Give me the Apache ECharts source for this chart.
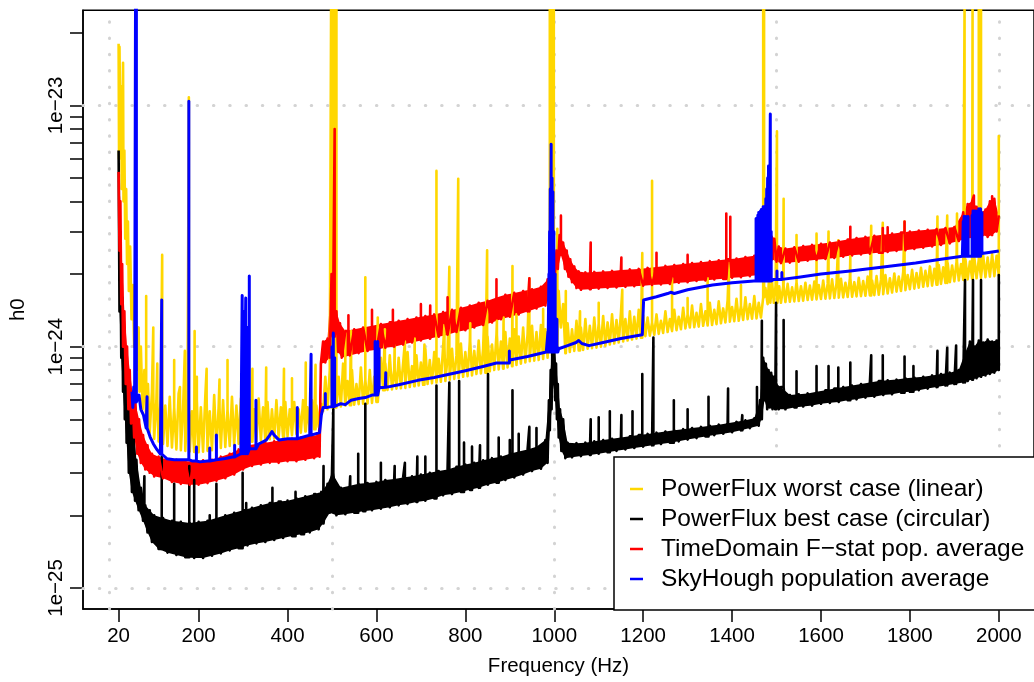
<!DOCTYPE html>
<html>
<head>
<meta charset="utf-8">
<title>h0 upper limits</title>
<script src="https://cdn.jsdelivr.net/npm/echarts@6/dist/echarts.min.js"></script>
<style>
  html, body { margin: 0; padding: 0; background: #fff; }
  #chart { width: 1034px; height: 682px; }
</style>
</head>
<body>
<div id="chart"></div>
<script>
// h0 values are written in units of 1e-25; the y axis runs in log10(h0)
var UNIT = 1e-25;

var seriesNames = [
  'PowerFlux worst case (linear)',
  'PowerFlux best case (circular)',
  'TimeDomain F\u2212stat pop. average',
  'SkyHough population average'
];

var xTickValues = [20, 200, 400, 600, 800, 1000, 1200, 1400, 1600, 1800, 2000];
var xTickLabels = ['20', '200', '400', '600', '800', '1000', '1200', '1400', '1600', '1800', '2000'];
var yTickValues = [1e-25, 2e-25, 3e-25, 4e-25, 5e-25, 6e-25, 7e-25, 8e-25, 9e-25,
  1e-24, 2e-24, 3e-24, 4e-24, 5e-24, 6e-24, 7e-24, 8e-24, 9e-24, 1e-23, 2e-23];
var yLabelValues = [1e-25, 1e-24, 1e-23];
var yLabelTexts = ['1e\u221225', '1e\u221224', '1e\u221223'];
var gridFreqs = [0, 500, 1000, 1500, 2000];
var gridH0 = [1e-25, 1e-24, 1e-23];
var yRange = [8.18e-26, 2.4766e-23];

// PowerFlux worst case: noise band (alternating top / bottom of the band)
var yellowBand = [
  [20,180],[21,60],[22,175],[24,70],[26,120],[27,45],[29,95],[30,150],[31,40],[33,65],[35,28],[37,45],
  [39,22],[41,33],[43,17],[46,26],[49,13],[52,18],[55,10],[58,14],[61,8],[64,12],[67,6.5],[70,10],
  [74,5.5],[78,8],[82,5],[86,7],[90,4.4],[95,6.5],
  [100,4.15],[105,6.0],[110,4.05],[115,6.3],[120,3.95],[125,5.7],[130,3.88],[135,6.2],[140,3.82],[145,5.6],
  [150,3.75],[155,6.4],[160,3.72],[165,5.5],[170,3.7],[175,6.1],[180,3.68],[185,5.4],[190,3.66],[195,6.0],
  [200,3.65],[205,5.6],[210,3.67],[215,6.2],[220,3.7],[225,5.4],[230,3.72],[235,6.3],[240,3.75],[245,5.6],
  [250,3.8],[255,6.0],[260,3.84],[265,5.5],[270,3.88],[275,6.2],[280,3.92],[285,5.7],[290,3.96],[295,6.1],
  [300,4.0],[305,5.6],[310,4.02],[315,6.0],[320,4.04],[325,5.5],[330,4.06],[335,6.1],[340,4.08],[345,5.6],
  [350,4.1],[355,5.9],[360,4.13],[365,5.5],[370,4.16],[375,6.0],[380,4.19],[385,5.6],[390,4.22],[395,5.9],
  [400,4.25],[405,5.5],[410,4.3],[415,5.9],[420,4.35],[425,5.5],[430,4.4],[435,6.0],[440,4.45],[445,5.6],
  [450,4.5],[455,6.0],[460,4.55],[465,5.7],[470,4.65],[475,5.8],
  [480,5.4],[485,7.5],[490,5.5],[495,8],[500,5.6],[510,5.6],[515,7.5],[520,5.65],[525,8.5],[530,5.7],
  [535,7.2],[540,5.72],[545,8.0],[550,5.75],[555,7.0],[560,5.78],[565,8.2],[570,5.8],[575,7.3],[580,5.82],
  [585,8.0],[590,5.85],[595,7.5],[600,5.9],[605,6.55],[610,9.0],[615,6.6],[620,8.5],[625,6.62],[630,9.2],
  [635,6.65],[640,8.0],[645,6.7],[650,9.0],[655,6.72],[660,8.5],[665,6.75],[670,9.5],[675,6.8],[680,8.3],
  [685,6.85],[690,9.2],[695,6.9],[700,8.6],[705,6.95],[710,9.8],[715,7.0],[720,8.8],[725,7.05],[730,9.5],
  [735,7.1],[740,8.9],[745,7.15],[750,10],[755,7.2],[760,9.0],[765,7.3],[770,9.8],[775,7.35],[780,9.2],
  [785,7.4],[790,10.3],[795,7.5],[800,9.5],[805,7.55],[810,10.5],[815,7.6],[820,9.6],[825,7.7],[830,10.6],
  [835,7.75],[840,9.8],[845,7.8],[850,11],[855,7.9],[860,10.2],[865,8.0],[870,11.2],[875,8.05],[880,10.5],
  [885,8.1],[890,11.5],[895,8.2],[900,10.8],[905,8.3],[910,11.8],[915,8.4],[920,11.0],[925,8.5],[930,12],
  [935,8.6],[940,11.3],[945,8.7],[950,12.2],[955,8.75],[960,11.5],[965,8.8],[970,12.3],[975,8.9],[980,11.8],
  [985,9.0],[990,14],[995,9.2],[1000,16],[1005,10],[1010,17],[1015,12],[1020,15],[1025,9.4],
  [1030,12.5],[1035,9.5],[1040,11.8],[1045,9.6],[1050,12.8],[1055,9.65],[1060,12.0],[1065,9.7],[1070,13.0],
  [1075,9.8],[1080,12.2],[1085,9.85],[1090,13.2],[1095,9.9],[1100,12.5],[1105,10.0],[1110,13.4],[1115,10.1],
  [1120,12.6],[1125,10.2],[1130,13.6],[1135,10.3],[1140,12.9],[1145,10.4],[1150,13.8],[1155,10.5],[1160,13.0],
  [1165,10.6],[1170,14.0],[1175,10.7],[1180,13.3],[1185,10.8],[1190,14.2],[1195,10.9],[1200,13.5],[1205,11.05],
  [1210,13.2],[1215,11.1],[1220,12.6],[1225,11.2],[1230,13.6],[1235,11.3],[1240,12.8],[1245,11.4],[1250,14.0],
  [1255,11.5],[1260,13.0],[1265,11.6],[1270,14.2],[1275,11.7],[1280,13.3],[1285,11.8],[1290,14.5],[1295,11.9],
  [1300,13.6],[1305,12.0],[1310,14.8],[1315,12.05],[1320,13.8],[1325,12.1],[1330,15.0],[1335,12.2],[1340,14.0],
  [1345,12.25],[1350,15.2],[1355,12.3],[1360,14.2],[1365,12.4],[1370,15.4],[1375,12.5],[1380,14.4],[1385,12.6],
  [1390,15.6],[1395,12.7],[1400,14.6],[1405,12.75],[1410,15.8],[1415,12.8],[1420,14.8],[1425,12.9],[1430,16.0],
  [1435,13.0],[1440,15.0],[1445,13.05],[1450,16.2],[1455,13.1],[1460,15.2],[1465,13.2],
  [1470,16],[1475,17.5],[1480,15],[1483,19],[1486,15.2],[1490,18.5],[1494,15.2],[1498,18],[1502,15.2],
  [1506,17.8],[1510,15.2],
  [1515,17.8],[1520,15.3],[1525,18.2],[1530,15.35],[1535,17.6],[1540,15.4],[1545,18.5],[1550,15.45],[1555,17.8],
  [1560,15.5],[1565,18.4],[1570,15.6],[1575,17.9],[1580,15.65],[1585,18.6],[1590,15.7],[1595,18],[1600,15.75],
  [1605,18.8],[1610,15.8],[1615,18.2],[1620,15.85],[1625,19],[1630,15.9],[1635,18.3],[1640,15.95],[1645,19.1],
  [1650,16.0],[1655,18.4],[1660,16.05],[1665,19.2],[1670,16.1],[1675,18.5],[1680,16.15],[1685,19.3],[1690,16.2],
  [1695,18.7],[1700,16.25],[1705,19.5],[1710,16.3],[1715,18.8],[1720,16.35],[1725,19.6],[1730,16.4],[1735,19],
  [1740,16.5],[1745,19.8],[1750,16.6],[1755,19.2],[1760,16.75],[1765,20.1],[1770,16.9],[1775,19.5],[1780,17.0],
  [1785,20.4],[1790,17.15],[1795,19.8],[1800,17.3],[1805,20.8],[1810,17.4],[1815,20.2],[1820,17.55],[1825,21.2],
  [1830,17.7],[1835,20.6],[1840,17.8],[1845,21.5],[1850,17.9],[1855,21],[1860,18.05],[1865,21.8],[1870,18.2],
  [1875,21.3],[1880,18.35],[1885,22.2],[1890,18.5],[1895,21.7],[1900,18.65],[1905,22.5],[1910,18.8],[1915,22],
  [1920,18.9],[1925,23],[1930,19.0],[1935,22.5],[1940,19.1],[1945,23.4],[1950,19.2],[1955,23],[1960,19.3],
  [1965,23.8],[1970,19.4],[1975,23.4],[1980,19.5],[1985,24.2],[1990,19.6],[1995,23.8],[2000,19.7]
];
// PowerFlux worst case: narrow lines (peak value; 260 = off the top of the plot)
var yellowSpikes = [
  [65,9.9],[82,16.2],[98,12],[107,8.5],[118,24],[145,8.8],[158,6.8],[169,9.6],[178,108],[191,11.6],[196,7.5],
  [218,8.1],[247,7.3],[265,8.8],[321,8.1],[352,8.2],[392,8.1],[410,7.4],[441,8.6],[463,8.4],
  [498,260],[501,260],[504,260],[507,260],[510,260],[530,11.6],[543,11.6],[575,19.4],[603,13.2],[619,11.8],
  [641,10.2],[664,10.5],[686,10.8],[708,10.2],[735,53.5],[753,12.3],[764,21.4],[784,49.6],[811,12.5],
  [842,12.8],[849,25.1],[871,12.8],[886,13.2],[906,21.6],[915,13.6],[944,19.2],[975,14.3],
  [990,260],[993,260],[996,260],[999,260],[1007,30.8],
  [1026,17],[1058,14],[1100,15.2],[1153,17.2],[1198,24.4],[1220,48.7],[1265,19.2],[1300,15.9],[1345,19.2],
  [1393,22.2],[1420,18],
  [1470,260],[1472,260],[1501,78],[1516,41],[1545,29],[1590,29.4],[1617,30],[1639,27.6],[1666,23.7],
  [1713,31.7],[1739,32.6],[1788,33],[1862,34.6],[1884,34.9],[1906,35.6],[1923,260],[1941,260],[1955,260],
  [1960,260],[2000,74.6]
];

// PowerFlux best case
var blackBand = [
  [20,65],[22,14],[24,30],[26,9],[28,16],[30,6.5],[32,12],[34,5],[36,9],[38,4],[40,7],[43,3],[46,5.5],
  [50,2.5],[53,5],[57,2.3],[60,3.4],[65,2.1],[70,2.6],[75,1.9],[80,2.2],[85,1.7],[90,2.1],[95,1.55],
  [100,2.0],[110,1.45],[120,1.95],[130,1.4],[140,1.9],[150,1.37],[160,1.88],[170,1.34],[180,1.86],[190,1.33],
  [200,1.88],[210,1.33],[220,1.9],[230,1.36],[240,1.95],[250,1.39],[260,2.0],[270,1.43],[280,2.05],[290,1.46],
  [300,2.1],[310,1.5],[320,2.15],[330,1.53],[340,2.2],[350,1.55],[360,2.25],[370,1.58],[380,2.28],[390,1.61],
  [400,2.3],[410,1.64],[420,2.35],[430,1.67],[440,2.4],[450,1.7],[460,2.45],[470,1.75],[476,2.5],[480,1.85],
  [490,2.7],[495,2.05],[500,3.0],[510,2.0],[520,2.6],[530,2.02],[540,2.65],[550,2.05],[560,2.7],[570,2.08],
  [580,2.72],[590,2.1],[600,2.75],[610,2.13],[620,2.8],[630,2.16],[640,2.83],[650,2.2],[660,2.87],[670,2.23],
  [680,2.9],[690,2.27],[700,2.95],[710,2.3],[720,3.0],[730,2.35],[740,3.05],[750,2.42],[760,3.1],[770,2.45],
  [780,3.18],[790,2.5],[800,3.25],[810,2.55],[820,3.3],[830,2.6],[840,3.38],[850,2.68],[860,3.45],[870,2.73],
  [880,3.5],[890,2.8],[900,3.6],[910,2.87],[920,3.68],[930,2.95],[940,3.75],[950,3.05],[960,3.85],[970,3.12],
  [980,4.1],[985,3.3],[988,6],[990,4.5],[992,8],[994,5.5],[996,11],[998,7],[1000,10],[1002,6],[1004,8.5],
  [1006,5],[1008,7],[1010,4.2],[1013,5.5],[1016,3.7],[1020,5],[1025,3.45],
  [1030,4.0],[1040,3.48],[1050,3.98],[1060,3.52],[1070,4.0],[1080,3.56],[1090,4.05],[1100,3.6],[1110,4.1],
  [1120,3.65],[1130,4.15],[1140,3.7],[1150,4.2],[1160,3.75],[1170,4.25],[1180,3.8],[1190,4.3],[1200,3.85],
  [1210,4.35],[1220,3.9],[1230,4.4],[1240,3.95],[1250,4.45],[1260,4.0],[1270,4.5],[1280,4.05],[1290,4.55],
  [1300,4.12],[1310,4.6],[1320,4.18],[1330,4.65],[1340,4.24],[1350,4.7],[1360,4.3],[1370,4.75],[1380,4.36],
  [1390,4.82],[1400,4.42],[1410,4.88],[1420,4.5],[1430,4.95],[1440,4.6],[1450,5.05],[1460,4.7],
  [1463,6],[1466,5],[1470,9],[1473,6],[1476,8.5],[1479,5.5],[1482,8],[1485,5.6],[1488,7.8],[1491,5.5],
  [1494,7.5],[1497,5.5],[1500,7],[1505,5.5],[1510,6.8],[1520,5.5],
  [1530,6.3],[1540,5.6],[1550,6.35],[1560,5.65],[1570,6.4],[1580,5.7],[1590,6.5],[1600,5.8],[1610,6.6],
  [1620,5.85],[1630,6.7],[1640,5.9],[1650,6.8],[1660,6.0],[1670,6.9],[1680,6.05],[1690,7.0],[1700,6.15],
  [1710,7.1],[1720,6.2],[1730,7.2],[1740,6.3],[1750,7.25],[1760,6.35],[1770,7.3],[1780,6.45],[1790,7.4],
  [1800,6.5],[1810,7.45],[1820,6.6],[1830,7.5],[1840,6.7],[1850,7.6],[1860,6.8],[1870,7.7],[1880,6.9],
  [1890,7.8],[1900,7.0],[1910,8.0],[1920,7.1],[1925,9.5],[1930,7.2],[1935,10.5],[1940,7.3],[1945,10.0],
  [1950,7.4],[1955,10.6],[1960,7.5],[1965,10.4],[1970,7.6],[1975,10.7],[1980,7.7],[1985,10.5],[1990,7.8],
  [1995,10.6],[2000,8.0]
];
var blackSpikes = [
  [78,2.9],[117,3.5],[145,2.7],[179,3.2],[190,2.8],[225,2.0],[240,2.7],[299,3.0],[307,2.25],[366,2.6],
  [385,2.2],[418,2.5],[437,2.35],[463,2.4],
  [481,3.2],[503,5.5],[541,2.9],[559,3.6],[575,5.8],[610,3.3],[641,3.2],[664,3.3],[692,3.5],[710,3.5],
  [735,6.9],[764,7.1],[786,7.2],[797,4.0],[815,3.85],[833,3.9],[851,7.7],[875,4.2],[900,4.1],[906,6.6],
  [920,4.35],[944,4.65],[960,4.6],
  [1082,5.0],[1100,5.1],[1125,5.4],[1151,5.2],[1176,5.4],[1198,7.7],[1223,10.9],[1269,6.0],[1300,5.5],
  [1347,6.2],[1391,6.7],[1423,5.2],[1456,6.8],[1467,12.8],[1499,15.2],[1516,12.9],[1545,7.9],[1590,8.3],
  [1617,8.3],[1639,8.2],[1666,8.6],[1713,9.2],[1739,9.2],[1788,9.1],[1808,8.3],[1862,9.6],[1884,9.9],
  [1904,10.1],[1924,18.9],[1942,18.9],[1960,18.9],[2000,19.8]
];

// TimeDomain F-stat
var redBand = [
  [20,53],[22,25],[24,40],[26,15],[28,22],[30,10],[33,14],[36,7],[39,10],[42,5.5],[45,8],[48,4.8],[51,6.5],
  [55,4.2],[58,5.8],[62,3.6],[66,5.0],[70,3.3],[75,4.3],[80,3.1],[85,3.9],[90,3.0],[95,3.6],
  [100,2.9],[110,3.5],[120,2.85],[130,3.4],[140,2.75],[150,3.4],[160,2.7],[170,3.35],[180,2.68],[190,3.35],
  [200,2.68],[210,3.38],[220,2.72],[230,3.4],[240,2.78],[250,3.5],[260,2.85],[270,3.6],[280,2.95],[290,3.75],
  [300,3.1],[310,3.9],[320,3.2],[330,3.95],[340,3.25],[350,4.0],[360,3.3],[370,4.05],[380,3.3],[390,4.1],
  [400,3.35],[410,4.15],[420,3.35],[430,4.2],[440,3.4],[450,4.25],[460,3.45],[468,4.3],[472,3.5],
  [475,8.5],[480,10.5],[485,8.6],[490,10.8],[495,9.0],[499,20],[502,11],[510,14],[514,9.5],[518,12.5],[522,9.0],
  [530,11.6],[540,9.2],[550,11.8],[560,9.4],[570,12.0],[580,9.6],[590,12.2],[600,9.7],[610,12.4],[620,9.9],
  [630,12.6],[640,10.0],[650,12.8],[660,10.2],[670,13.0],[680,10.4],[690,13.2],[700,10.6],[710,13.4],[720,10.8],
  [730,13.6],[740,11.0],[750,13.9],[760,11.2],[770,14.2],[780,11.5],[790,14.5],[800,11.7],[810,14.8],[820,12.0],
  [830,15.2],[840,12.3],[850,15.5],[860,12.6],[870,16.0],[880,13.0],[890,16.4],[900,13.3],[910,16.7],[920,13.6],
  [930,17.0],[940,14.0],[950,17.3],[960,14.4],[970,17.7],[980,14.8],
  [985,19],[990,16],[995,22],[1000,18],[1005,25],[1008,21],[1012,29],[1015,24],[1020,27],[1024,21],[1028,25],
  [1032,19.5],[1036,23],[1040,18.5],[1045,21.5],[1050,17.5],[1055,20.5],[1060,17.2],
  [1070,20.3],[1080,17.3],[1090,20.4],[1100,17.4],[1110,20.5],[1120,17.5],[1130,20.6],[1140,17.6],[1150,20.8],
  [1160,17.7],[1170,20.9],[1180,17.8],[1190,21.0],[1200,17.9],[1210,21.2],[1220,18.0],[1230,21.4],[1240,18.1],
  [1250,21.6],[1260,18.2],[1270,21.8],[1280,18.4],[1290,22.0],[1300,18.5],[1310,22.2],[1320,18.7],[1330,22.4],
  [1340,18.8],[1350,22.6],[1360,19.0],[1370,22.8],[1380,19.1],[1390,23.0],[1400,19.3],[1410,23.2],[1420,19.4],
  [1430,23.5],[1440,19.6],[1450,23.8],[1460,19.8],
  [1470,24],[1480,20.5],[1485,30],[1490,23],[1495,28],[1500,22.5],[1505,26],[1510,22.2],
  [1520,25.5],[1530,22.3],[1540,25.8],[1550,22.5],[1560,26.1],[1570,22.7],[1580,26.4],[1590,22.9],[1600,26.7],
  [1610,23.1],[1620,27.0],[1630,23.3],[1640,27.4],[1650,23.6],[1660,27.8],[1670,23.9],[1680,28.2],[1690,24.1],
  [1700,28.5],[1710,24.3],[1720,28.8],[1730,24.5],[1740,29.1],[1750,24.7],[1760,29.4],[1770,24.9],[1780,29.7],
  [1790,25.1],[1800,30.0],[1810,25.4],[1820,30.3],[1830,25.7],[1840,30.5],[1850,26.0],[1860,30.7],[1870,26.4],
  [1880,31.0],[1890,26.8],[1900,31.3],[1910,27.4],[1920,36],[1925,28],[1930,39],[1935,28.5],[1940,40],
  [1945,29],[1950,38],[1955,28.5],[1960,36],[1965,29],[1970,37],[1975,28.5],[1980,40],[1985,29],[1990,41],
  [1995,30],[2000,35]
];
var redSpikes = [
  [506,79.7],[537,13.5],[590,14.2],[637,14.2],[700,15.0],[721,14.8],[760,16.0],[870,19.0],[944,19.2],
  [1015,34.9],[1082,27],[1151,23.4],[1230,24.5],[1300,24.0],[1387,35.6],[1396,34.5],[1666,31.4],[1739,31.0],
  [1750,31.2],[1788,33.0],[1944,42.3],[1985,42],[1991,41.5]
];

// SkyHough
var blueLine = [
  [50,6.5],[52,5.6],[54,6.8],[56,5.9],[62,5.9],[66,6.3],[70,5.5],[76,5.2],[82,4.6],[91,4.22],[98,3.96],
  [106,3.75],[114,3.59],[129,3.43],[145,3.4],[165,3.4],[185,3.36],[203,3.33],[220,3.36],[240,3.4],[260,3.44],
  [276,3.49],[295,3.6],[314,3.77],[335,3.95],[352,4.1],[360,4.3],[365,4.45],[370,4.3],[381,4.1],[400,4.15],
  [425,4.22],[450,4.3],[472,4.4],[476,5.2],[480,5.6],[490,5.6],[500,5.65],[520,5.8],[530,5.75],[543,6.0],
  [560,6.1],[575,6.15],[590,6.3],[598,6.3],[606,6.75],[620,6.78],[650,6.95],[693,7.25],[730,7.45],[766,7.7],
  [800,7.95],[842,8.3],[870,8.55],[900,8.8],[940,9.1],[982,9.5],[1010,9.8],[1030,10.1],[1049,10.4],
  [1055,10.6],[1062,10.3],[1078,10.1],[1110,10.4],[1150,10.8],[1198,11.2],[1201,15.6],[1230,16.1],
  [1255,16.6],[1262,16.8],[1270,16.6],[1300,17.2],[1356,18.0],[1400,18.4],[1449,18.7],[1494,19.0],
  [1516,19.1],[1550,19.4],[1600,20.0],[1666,20.6],[1740,21.4],[1813,22.2],[1870,23.0],[1918,23.7],
  [1960,24.3],[2000,24.9]
];
var blueSpikes = [
  [58,260],[60,260],[84,6.2],[117,15.6],[178,104],[195,3.84],[225,3.8],[240,4.3],[281,3.9],[298,16.3],
  [302,14],[306,15.9],[310,12],[314,19.6],[329,6.0],[422,5.6],[453,9.3],[485,6.4],[500,10],[503,11.4],
  [506,9],[597,10.5],[600,10.2],[603,10.5],[606,9.8],[621,7.8],[899,9.6],
  [986,11.6],[988,20],[989.5,30],[991,45],[993,69],[995,50],[997,43.8],[999,30],[1000.5,15.9],[1002,20],
  [1004,11.6],[1006,13],[1008,9.9],
  [1454,34],[1456,30],[1458,35],[1460,36],[1462,33],[1464,36.5],[1466,37],[1468,34],[1470,38],[1472,38],
  [1474,35],[1476,41],[1478,45],[1480,50],[1482,56],[1484,55],[1486,92],[1488,30],
  [1501,20.6],[1512,20.3],
  [1920,33],[1922,34.6],[1924,34],[1926,34.6],[1928,30],[1931,34.6],[1940,35],[1942,36.5],[1944,36],
  [1946,36.5],[1949,36.5],[1955,37.3],[1957,37],[1959,37.3],[1962,36]
];

var colors = ['#FFD700', '#000000', '#FF0000', '#0000FF'];

function lg(u) { return Math.log10(u * UNIT); }

// merge a band with its narrow lines: each line rises from the last band value and drops back
function buildData(band, spikes) {
  var pts = band.map(function (p) { return { f: p[0], v: p[1], s: 0 }; })
    .concat(spikes.map(function (p) { return { f: p[0], v: p[1], s: 1 }; }));
  pts.sort(function (a, b) { return (a.f - b.f) || (a.s - b.s); });
  var out = [];
  var last = null;
  pts.forEach(function (p) {
    if (!p.s) {
      out.push([p.f, lg(p.v)]);
      last = p.v;
    } else {
      var base = last == null ? p.v : last;
      out.push([p.f, lg(base)], [p.f, lg(p.v)], [p.f, lg(base)]);
    }
  });
  return out;
}

// split a band into its top points and bottom points, to fill the space between them
function envelope(band) {
  var upper = [], lower = [];
  band.forEach(function (p, i) {
    var prev = i > 0 ? band[i - 1][1] : null;
    var next = i < band.length - 1 ? band[i + 1][1] : null;
    var hi = prev != null && next != null && p[1] > prev && p[1] > next;
    var lo = prev != null && next != null && p[1] < prev && p[1] < next;
    if (!lo) upper.push(p);
    if (!hi) lower.push(p);
  });
  return { upper: upper, lower: lower };
}

function bandFill(band, color, name) {
  var env = envelope(band);
  return {
    name: name,
    type: 'custom',
    silent: true,
    clip: true,
    data: [[1000, -24]],
    renderItem: function (params, api) {
      var pts = env.upper.map(function (p) { return api.coord([p[0], lg(p[1])]); })
        .concat(env.lower.slice().reverse().map(function (p) { return api.coord([p[0], lg(p[1])]); }));
      return { type: 'polygon', shape: { points: pts }, style: { fill: color, stroke: null } };
    }
  };
}

var font = 'Liberation Sans, Arial, Helvetica, sans-serif';
var dotted = { color: '#D3D3D3', width: 3, type: [0.5, 15.8], cap: 'round' };

var gridMarks = gridFreqs.map(function (f) { return { xAxis: f }; })
  .concat(gridH0.map(function (h) { return { yAxis: Math.log10(h) }; }));

function lineSeries(i, data, width) {
  return {
    name: seriesNames[i],
    type: 'line',
    data: data,
    symbol: 'none',
    showSymbol: false,
    silent: true,
    clip: true,
    lineStyle: { color: colors[i], width: width, join: 'round' },
    itemStyle: { color: colors[i] }
  };
}

var yellowSeries = lineSeries(0, buildData(yellowBand, yellowSpikes), 2.6);
yellowSeries.markLine = {
  z: 1,
  silent: true,
  animation: false,
  symbol: ['none', 'none'],
  label: { show: false },
  lineStyle: dotted,
  emphasis: { disabled: true },
  data: gridMarks
};

var series = [
  yellowSeries,
  bandFill(blackBand, colors[1], 'fill-black'),
  lineSeries(1, buildData(blackBand, blackSpikes), 2.6),
  bandFill(redBand, colors[2], 'fill-red'),
  lineSeries(2, buildData(redBand, redSpikes), 2.6),
  lineSeries(3, buildData(blueLine, blueSpikes), 3)
];

function findIndex(list, v) {
  for (var i = 0; i < list.length; i++) {
    if (Math.abs(Math.log10(list[i]) - v) < 1e-6) return i;
  }
  return -1;
}

var chart = echarts.init(document.getElementById('chart'), null, { renderer: 'canvas' });
chart.setOption({
  backgroundColor: '#fff',
  animation: false,
  textStyle: { fontFamily: font, color: '#000' },
  grid: {
    left: 82, top: 10.3, width: 960.9, height: 603.2,
    show: true, borderColor: '#000', borderWidth: 1.5
  },
  legend: {
    orient: 'vertical',
    left: 614, top: 457,
    padding: [17, 40, 16, 16],
    itemGap: 0,
    itemWidth: 13,
    itemHeight: 2.5,
    icon: 'rect',
    backgroundColor: '#fff',
    borderColor: '#000',
    borderWidth: 1.5,
    borderRadius: 0,
    selectedMode: false,
    data: seriesNames,
    textStyle: { fontFamily: font, fontSize: 24.5, color: '#000', lineHeight: 30, padding: [0, 0, 0, 13] }
  },
  xAxis: {
    type: 'value',
    min: -60.1, max: 2079.2,
    axisLine: { show: true, onZero: false, lineStyle: { color: '#000', width: 1.5 } },
    axisTick: { show: true, customValues: xTickValues, length: 13, lineStyle: { color: '#000', width: 1.5 } },
    axisLabel: {
      customValues: xTickValues,
      formatter: function (v) { return xTickLabels[xTickValues.indexOf(v)]; },
      fontSize: 20.5, color: '#000', margin: 17, fontFamily: font
    },
    splitLine: { show: false },
    name: 'Frequency (Hz)', nameLocation: 'middle', nameGap: 47,
    nameTextStyle: { fontSize: 20.5, color: '#000', fontFamily: font }
  },
  yAxis: {
    type: 'value',
    min: Math.log10(yRange[0]), max: Math.log10(yRange[1]),
    axisLine: { show: true, onZero: false, lineStyle: { color: '#000', width: 1.5 } },
    axisTick: {
      show: true, customValues: yTickValues.map(Math.log10), length: 13,
      lineStyle: { color: '#000', width: 1.5 }
    },
    axisLabel: {
      customValues: yLabelValues.map(Math.log10),
      formatter: function (v) {
        var i = findIndex(yLabelValues, v);
        return i < 0 ? '' : yLabelTexts[i];
      },
      rotate: 90, fontSize: 20.5, color: '#000', margin: 16, fontFamily: font
    },
    splitLine: { show: false },
    name: 'h0', nameLocation: 'middle', nameGap: 54,
    nameTextStyle: { fontSize: 20.5, color: '#000', fontFamily: font }
  },
  series: series
});
</script>
</body>
</html>
